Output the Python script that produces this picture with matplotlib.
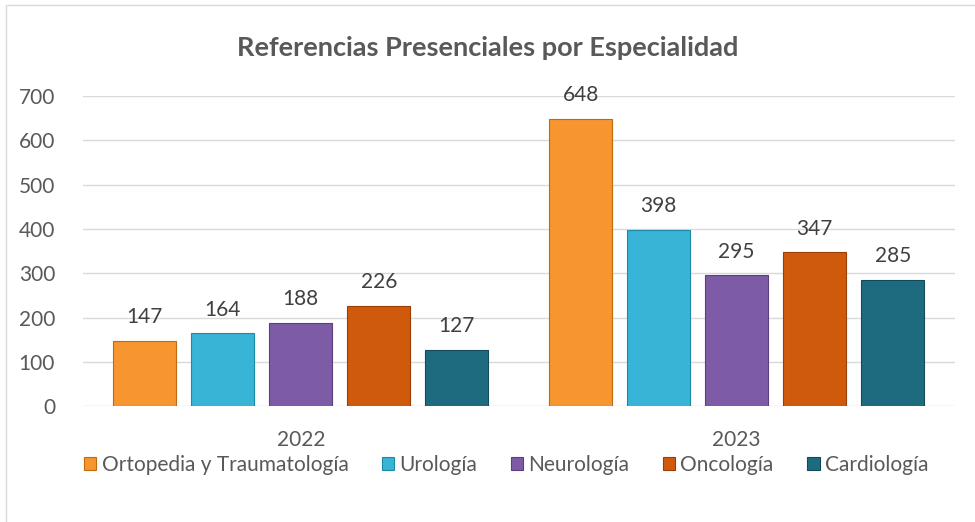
import numpy as np
import matplotlib.pyplot as plt
from matplotlib.patches import Rectangle

plt.rcParams['font.family'] = ['Lato', 'DejaVu Sans']

years = ['2022', '2023']
specialties = ['Ortopedia y Traumatología', 'Urología', 'Neurología', 'Oncología', 'Cardiología']
values = {
    'Ortopedia y Traumatología': [147, 648],
    'Urología': [164, 398],
    'Neurología': [188, 295],
    'Oncología': [226, 347],
    'Cardiología': [127, 285],
}
colors = ['#F7952F', '#38B4D6', '#7E5BA6', '#D05A0C', '#1E6B80']
edges = ['#C06A10', '#1E8AA8', '#5B3E80', '#9A3E05', '#124A5A']

text_color = '#595959'

fig = plt.figure(figsize=(9.75, 5.22), dpi=100)
ax = fig.add_axes([0.085, 0.222, 0.894, 0.594])

x = np.arange(len(years))
slot = 0.179
width = 0.1445
for i, name in enumerate(specialties):
    pos = x + (i - 2) * slot
    bars = ax.bar(pos, values[name], width, color=colors[i], edgecolor=edges[i],
                  linewidth=0.8, label=name, zorder=3)
    for b, v in zip(bars, values[name]):
        ax.annotate(str(v), (b.get_x() + b.get_width() / 2, v), xytext=(0, 10),
                    textcoords='offset points', ha='center', va='bottom',
                    fontsize=15, color='#404040')

ax.set_xlim(-0.5, 1.5)
ax.set_ylim(0, 700)
ax.set_yticks(range(0, 701, 100))
ax.set_xticks(x)
ax.set_xticklabels(years)
ax.grid(axis='y', color='#D9D9D9', linewidth=1, zorder=0)
for s in ax.spines.values():
    s.set_visible(False)
ax.tick_params(axis='both', length=0, labelsize=15, colors=text_color)
ax.tick_params(axis='y', pad=20)
ax.tick_params(axis='x', pad=17)

fig.text(0.5, 0.908, 'Referencias Presenciales por Especialidad', ha='center',
         va='center', fontsize=19.5, fontweight='bold', color=text_color)

leg = fig.legend(loc='center', bbox_to_anchor=(0.519, 0.11), ncol=5, frameon=False,
                 fontsize=15, handlelength=0.6, handleheight=0.6, handletextpad=0.25,
                 columnspacing=1.6, labelcolor=text_color)

fig.patches.append(Rectangle((0.006, -0.01), 1.0, 1.0, transform=fig.transFigure,
                             fill=False, edgecolor='#D9D9D9', linewidth=1))

fig.savefig('out.png', dpi=100)
